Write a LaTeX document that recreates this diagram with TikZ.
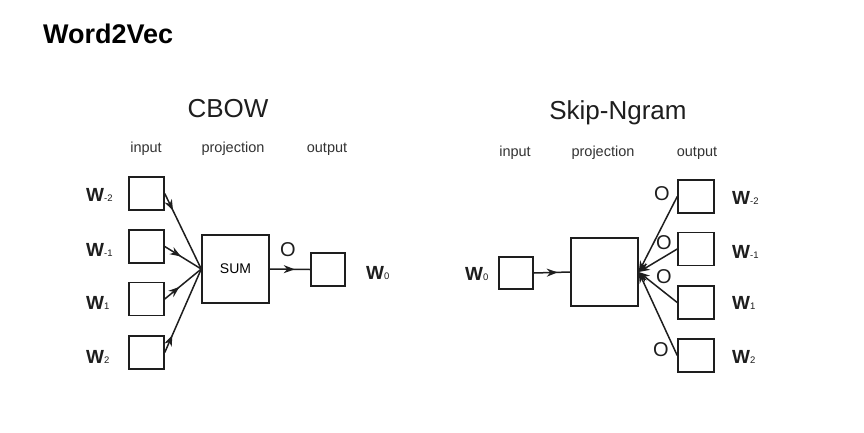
\documentclass[tikz,border=0pt]{standalone}
\usepackage{fontspec}
\setmainfont{Liberation Sans}
\usetikzlibrary{arrows.meta,decorations.markings}
\definecolor{ink}{HTML}{1E1E1E}
\definecolor{hdr}{HTML}{333333}
\tikzset{
  sq/.style={draw=ink, line width=1.5pt, inner sep=0pt, minimum width=35pt, minimum height=33pt},
  big/.style={draw=ink, line width=1.5pt, inner sep=0pt, minimum width=67pt, minimum height=68pt},
  conn/.style={draw=ink, line width=1.5pt},
  tip/.style={-{Stealth[length=11pt,width=8pt,inset=3.5pt]}},
  midarrow/.style={postaction={decorate},decoration={markings,mark=at position #1 with {\arrow[ink, line width=1.5pt]{Stealth[length=11pt,width=8pt,inset=3.5pt]}}}},
  wlab/.style={anchor=west, inner sep=0pt, text=ink, font=\fontsize{19}{19}\selectfont\bfseries},
  olab/.style={inner sep=0pt, text=ink, font=\fontsize{20}{20}\selectfont},
  hd/.style={anchor=base, inner sep=0pt, text=hdr, font=\fontsize{14.5}{14.5}\selectfont},
  ttl/.style={anchor=base, inner sep=0pt, text=ink, font=\fontsize{26}{26}\selectfont}
}
\newcommand{\wsub}[1]{W{\fontsize{9.5}{9.5}\selectfont\mdseries #1}}
\begin{document}
\begin{tikzpicture}[x=1pt,y=-1pt]
\useasboundingbox[fill=white] (0,0) rectangle (864,432);
\node[anchor=base west, inner sep=0pt, font=\fontsize{27}{27}\selectfont\bfseries] (main) at (43,43) {Word2Vec};

% ---------- CBOW ----------
\node[ttl] (tc) at (228,117) {CBOW};
\node[hd] (hc1) at (146,152) {input};
\node[hd] (hc2) at (233,152) {projection};
\node[hd] (hc3) at (327,152) {output};

\node[sq] (i1) at (146.5,193.5) {};
\node[sq] (i2) at (146.5,246.5) {};
\node[sq] (i3) at (146.5,299) {};
\node[sq] (i4) at (146.5,352.5) {};
\node[big] (sum) at (235.5,269) {\fontsize{14}{14}\selectfont SUM};
\node[sq, minimum width=34pt] (out) at (328,269.5) {};

\node[wlab] (lc1) at (86,195) {\wsub{-2}};
\node[wlab] (lc2) at (86,249.5) {\wsub{-1}};
\node[wlab] (lc3) at (86,303) {\wsub{1}};
\node[wlab] (lc4) at (86,356.5) {\wsub{2}};
\node[wlab] (lc0) at (366,273.5) {\wsub{0}};
\node[olab] (oc) at (288,250) {O};

\draw[conn, midarrow=19pt] (i1.east) -- (sum.west);
\draw[conn, midarrow=19pt] (i2.east) -- (sum.west);
\draw[conn, midarrow=19pt] (i3.east) -- (sum.west);
\draw[conn, midarrow=19pt] (i4.east) -- (sum.west);
\draw[conn, midarrow=25pt] (sum.east) -- (out.west);

% ---------- Skip-Ngram ----------
\node[ttl] (ts) at (618,119) {Skip-Ngram};
\node[hd] (hs1) at (515,156) {input};
\node[hd] (hs2) at (603,156) {projection};
\node[hd] (hs3) at (697,156) {output};

\node[sq, minimum width=34pt, minimum height=32pt] (sin) at (516,273) {};
\node[big] (proj) at (604.5,272) {};
\node[sq, minimum width=36pt] (o1) at (696,196.5) {};
\node[sq, minimum width=36pt] (o2) at (696,249) {};
\node[sq, minimum width=36pt] (o3) at (696,302.5) {};
\node[sq, minimum width=36pt] (o4) at (696,355.5) {};

\node[wlab] (ls0) at (465,274) {\wsub{0}};
\node[wlab] (ls1) at (732,198) {\wsub{-2}};
\node[wlab] (ls2) at (732,252) {\wsub{-1}};
\node[wlab] (ls3) at (732,302.5) {\wsub{1}};
\node[wlab] (ls4) at (732,357) {\wsub{2}};

\node[olab] (os1) at (662,194) {O};
\node[olab] (os2) at (664,243) {O};
\node[olab] (os3) at (664,277) {O};
\node[olab] (os4) at (661,350) {O};

\draw[conn, midarrow=24pt] (sin.east) -- (proj.west);
\draw[conn, tip] (o1.west) -- (proj.east);
\draw[conn, tip] (o2.west) -- (proj.east);
\draw[conn, tip] (o3.west) -- (proj.east);
\draw[conn, tip] (o4.west) -- (proj.east);
\end{tikzpicture}
\end{document}
